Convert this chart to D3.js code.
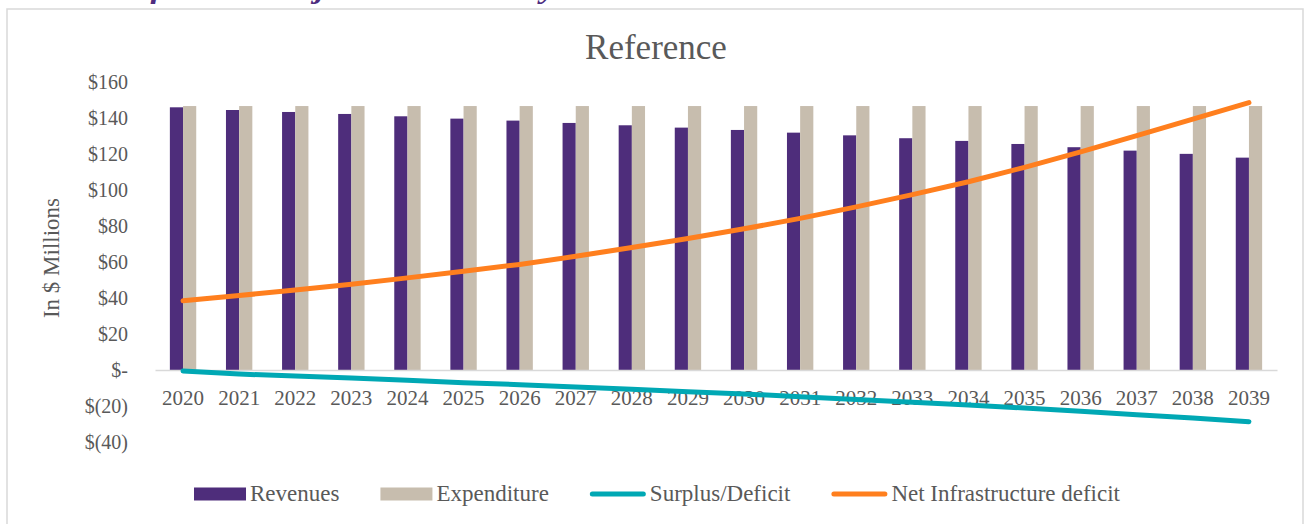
<!DOCTYPE html>
<html>
<head>
<meta charset="utf-8">
<script src="https://cdn.jsdelivr.net/npm/d3@7"></script>
<style>
  body { margin: 0; background: #fff; }
  svg { display: block; }
  svg text { font-family: "Liberation Serif", "Times New Roman", serif; }
</style>
</head>
<body>
<div class="chart"></div>
<script>
// values ($ millions)
const years = ["2020","2021","2022","2023","2024","2025","2026","2027","2028","2029",
               "2030","2031","2032","2033","2034","2035","2036","2037","2038","2039"];
const revenues = [146.2, 144.7, 143.6, 142.5, 141.2, 139.9, 138.8, 137.5, 136.2, 134.9,
                  133.6, 132.1, 130.6, 129.0, 127.5, 125.8, 124.0, 122.1, 120.3, 118.2];
const expenditure = [146.9, 146.9, 146.9, 146.9, 146.9, 146.9, 146.9, 146.9, 146.9, 146.9,
                     146.9, 146.9, 146.9, 146.9, 146.9, 146.9, 146.9, 146.9, 146.9, 146.9];
const surplus = [-0.5, -2.2, -3.3, -4.4, -5.7, -7.0, -8.1, -9.4, -10.7, -12.0,
                 -13.3, -14.8, -16.3, -17.9, -19.4, -21.1, -22.9, -24.8, -26.6, -28.7];
const netDeficit = [38.6, 41.5, 44.5, 47.8, 51.3, 55.0, 58.8, 63.3, 68.2, 73.2,
                    78.6, 84.4, 90.8, 97.6, 104.8, 112.8, 121.4, 130.4, 139.6, 148.8];
const yTicks = [-40, -20, 0, 20, 40, 60, 80, 100, 120, 140, 160];
const legendItems = [
  {name: "Revenues", kind: "rect", color: "#4e2d7b"},
  {name: "Expenditure", kind: "rect", color: "#c7bdae"},
  {name: "Surplus/Deficit", kind: "line", color: "#00a8b4"},
  {name: "Net Infrastructure deficit", kind: "line", color: "#ff7f1e"}
];

const width = 1306, height = 524;
const textColor = "#595959";
const serif = "Liberation Serif";

const svg = d3.select(".chart")
  .append("svg")
  .attr("width", width)
  .attr("height", height);

// caption of the page above, cut off by the top edge as in the source
svg.append("text")
  .attr("x", -10)
  .attr("y", -2)
  .attr("textLength", 566)
  .attr("lengthAdjust", "spacingAndGlyphs")
  .attr("fill", "#4f2d7f")
  .attr("font-family", serif)
  .attr("font-size", 29)
  .attr("font-weight", "bold")
  .attr("font-style", "italic")
  .text("Table 8: Reference Projection Summary");

// chart frame
svg.append("rect")
  .attr("x", 7)
  .attr("y", 9)
  .attr("width", 1296)
  .attr("height", 600)
  .attr("fill", "#fff")
  .attr("stroke", "#d9d9d9")
  .attr("stroke-width", 1.5);

svg.append("text")
  .attr("x", 656)
  .attr("y", 59)
  .attr("text-anchor", "middle")
  .attr("fill", textColor)
  .attr("font-family", serif)
  .attr("font-size", 35)
  .text("Reference");

const x = d3.scaleBand()
  .domain(years)
  .range([155, 1277])
  .paddingInner(0.53)
  .paddingOuter(0.265);

const x1 = d3.scaleBand()
  .domain(["rev", "exp"])
  .range([0, x.bandwidth()]);

const y = d3.scaleLinear()
  .domain([-40, 160])
  .range([442, 82.5]);

const fmt = v => v === 0 ? "$-" : v < 0 ? "$(" + Math.abs(v) + ")" : "$" + v;

const yAxis = d3.axisLeft(y)
  .tickValues(yTicks)
  .tickFormat(fmt)
  .tickSize(0)
  .tickPadding(27);

svg.append("g")
  .attr("class", "axis y-axis")
  .attr("transform", "translate(155,0)")
  .call(yAxis)
  .attr("font-family", serif)
  .call(g => g.select(".domain").remove())
  .call(g => g.selectAll("text")
    .attr("fill", textColor)
    .attr("font-size", 20));

svg.append("text")
  .attr("transform", "translate(59,258) rotate(-90)")
  .attr("text-anchor", "middle")
  .attr("fill", textColor)
  .attr("font-family", serif)
  .attr("font-size", 23)
  .text("In $ Millions");

// bars
const groups = svg.append("g")
  .selectAll("g")
  .data(years)
  .join("g")
  .attr("transform", d => `translate(${x(d)},0)`);

groups.append("rect")
  .attr("x", x1("rev"))
  .attr("width", x1.bandwidth())
  .attr("y", (d, i) => y(revenues[i]))
  .attr("height", (d, i) => y(0) - y(revenues[i]))
  .attr("fill", "#4e2d7b");

groups.append("rect")
  .attr("x", x1("exp"))
  .attr("width", x1.bandwidth())
  .attr("y", (d, i) => y(expenditure[i]))
  .attr("height", (d, i) => y(0) - y(expenditure[i]))
  .attr("fill", "#c7bdae");

// x axis at zero
const xAxis = d3.axisBottom(x)
  .tickSize(0)
  .tickPadding(20);

svg.append("g")
  .attr("class", "axis x-axis")
  .attr("transform", `translate(0,${y(0)})`)
  .call(xAxis)
  .attr("font-family", serif)
  .call(g => g.select(".domain")
    .attr("stroke", "#d9d9d9")
    .attr("stroke-width", 1.5))
  .call(g => g.selectAll("text")
    .attr("fill", textColor)
    .attr("font-size", 21));

const line = values => d3.line()
  .x((d, i) => x(years[i]) + x.bandwidth() / 2)
  .y(d => y(d))(values);

svg.append("path")
  .attr("d", line(surplus))
  .attr("fill", "none")
  .attr("stroke", "#00a8b4")
  .attr("stroke-width", 5)
  .attr("stroke-linecap", "round");

svg.append("path")
  .attr("d", line(netDeficit))
  .attr("fill", "none")
  .attr("stroke", "#ff7f1e")
  .attr("stroke-width", 5)
  .attr("stroke-linecap", "round")
  .attr("stroke-linejoin", "round");

// legend
const legend = svg.append("g").attr("class", "legend");
let lx = 0;
legendItems.forEach(item => {
  const g = legend.append("g").attr("transform", `translate(${lx},0)`);
  const sw = item.kind === "rect" ? 52 : 56;
  if (item.kind === "rect") {
    g.append("rect")
      .attr("x", 0).attr("y", -6.5)
      .attr("width", sw).attr("height", 13)
      .attr("fill", item.color);
  } else {
    g.append("line")
      .attr("x1", 2.5).attr("x2", sw - 2.5)
      .attr("y1", 0).attr("y2", 0)
      .attr("stroke", item.color)
      .attr("stroke-width", 5)
      .attr("stroke-linecap", "round");
  }
  const t = g.append("text")
    .attr("x", sw + 4)
    .attr("y", 7)
    .attr("fill", textColor)
    .attr("font-family", serif)
    .attr("font-size", 23)
    .text(item.name);
  lx += sw + 4 + t.node().getComputedTextLength() + 41;
});
const legendWidth = lx - 41;
legend.attr("transform", `translate(${657 - legendWidth / 2},494)`);
</script>
</body>
</html>
